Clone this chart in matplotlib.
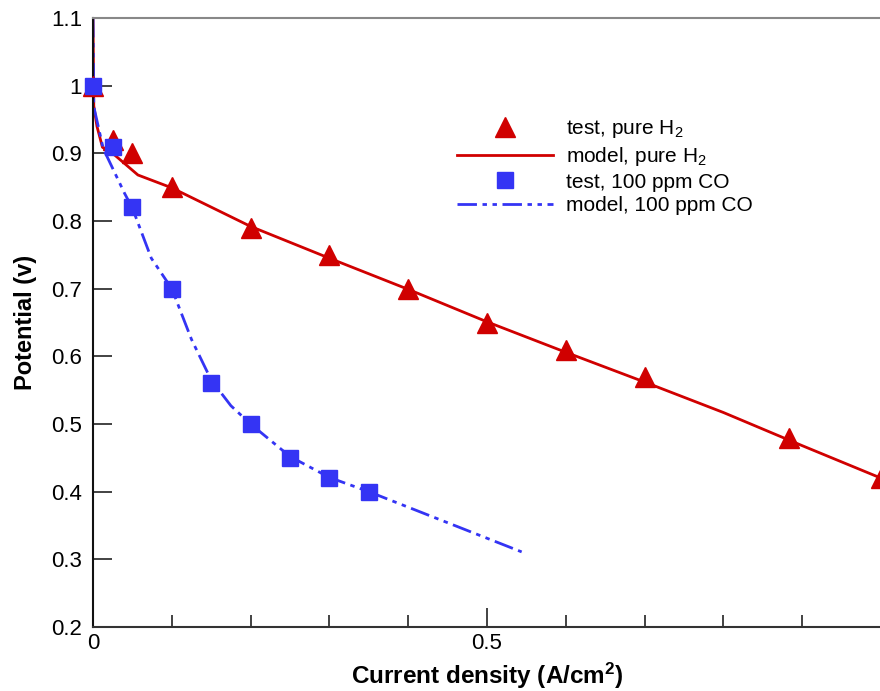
import numpy as np
import matplotlib
matplotlib.use('Agg')
import matplotlib.pyplot as plt
from matplotlib.ticker import MultipleLocator, FixedLocator

plt.rcParams['font.family'] = ['Liberation Sans', 'DejaVu Sans']
plt.rcParams['mathtext.default'] = 'regular'

# -----------------------
# data
# -----------------------
test_h2_x = [0.0, 0.025, 0.05, 0.1, 0.2, 0.3, 0.4, 0.5, 0.6, 0.7, 0.883, 1.0]
test_h2_y = [1.0, 0.92, 0.90, 0.85, 0.79, 0.75, 0.70, 0.65, 0.61, 0.57, 0.48, 0.42]

model_h2_x = [0.0, 0.001, 0.005, 0.012, 0.028, 0.057, 0.1, 0.2, 0.3, 0.4, 0.5, 0.6, 0.7, 0.8, 0.9, 1.0]
model_h2_y = [1.1, 0.97, 0.94, 0.909, 0.897, 0.868, 0.849, 0.792, 0.745, 0.699, 0.651, 0.606, 0.562, 0.517, 0.468, 0.42]

test_co_x = [0.0, 0.025, 0.05, 0.1, 0.15, 0.2, 0.25, 0.3, 0.35]
test_co_y = [1.0, 0.91, 0.82, 0.70, 0.56, 0.50, 0.45, 0.42, 0.40]

model_co_x = [0.0, 0.001, 0.013, 0.04, 0.05, 0.074, 0.1, 0.125, 0.15, 0.175, 0.2, 0.25, 0.3, 0.35, 0.544]
model_co_y = [1.1, 0.969, 0.907, 0.841, 0.819, 0.745, 0.70, 0.625, 0.565, 0.527, 0.50, 0.452, 0.421, 0.40, 0.311]

xticks = [0, 0.5]
xtick_labels = ['0', '0.5']
yticks = [0.2, 0.3, 0.4, 0.5, 0.6, 0.7, 0.8, 0.9, 1.0, 1.1]
ytick_labels = ['0.2', '0.3', '0.4', '0.5', '0.6', '0.7', '0.8', '0.9', '1', '1.1']

RED = '#d00000'
BLUE = '#3434f4'

fig = plt.figure(figsize=(8.8, 6.91), dpi=100)
ax = fig.add_axes([93 / 880, 64 / 691, 788 / 880, 609 / 691])

ax.plot(model_h2_x, model_h2_y, '-', color=RED, lw=2.0, label='model, pure H$_2$', zorder=2)
ax.plot(model_co_x, model_co_y, color=BLUE, lw=2.0, dashes=(7, 2, 1.6, 2, 1.6, 2),
        label='model, 100 ppm CO', zorder=2)
ax.plot(test_h2_x, test_h2_y, '^', color=RED, ms=15, mec=RED, label='test, pure H$_2$',
        zorder=3, clip_on=False)
ax.plot(test_co_x, test_co_y, 's', color=BLUE, ms=11, mec=BLUE, label='test, 100 ppm CO',
        zorder=4, clip_on=False)

ax.set_xlim(0, 1.0)
ax.set_ylim(0.2, 1.1)

ax.xaxis.set_major_locator(FixedLocator(xticks))
ax.set_xticklabels(xtick_labels)
ax.xaxis.set_minor_locator(MultipleLocator(0.1))
ax.yaxis.set_major_locator(FixedLocator(yticks))
ax.set_yticklabels(ytick_labels)

ax.tick_params(axis='both', which='major', direction='in', length=14, width=1.2,
               labelsize=16, color='#222222')
ax.tick_params(axis='x', which='minor', direction='in', length=9, width=1.2, color='#222222')
ax.tick_params(axis='x', which='major', pad=4)
ax.tick_params(axis='y', which='major', pad=8)
ax.tick_params(top=False, right=False)

ax.spines['left'].set_color('#111111')
ax.spines['left'].set_linewidth(1.5)
ax.spines['bottom'].set_color('#333333')
ax.spines['bottom'].set_linewidth(1.5)
ax.spines['top'].set_color('#888888')
ax.spines['top'].set_linewidth(1.5)
ax.spines['right'].set_visible(False)

ax.set_xlabel('Current density (A/cm$^2$)', fontsize=17.5, fontweight='bold', labelpad=5)
ax.set_ylabel('Potential (v)', fontsize=17, fontweight='bold', labelpad=10)

handles, labels = ax.get_legend_handles_labels()
order = [2, 0, 3, 1]
leg = ax.legend([handles[i] for i in order], [labels[i] for i in order],
                loc='upper left', bbox_to_anchor=(0.438, 0.866), frameon=False,
                fontsize=15, handlelength=4.6, handletextpad=0.65, labelspacing=0.22,
                numpoints=1)

fig.savefig('out.png', dpi=100)
